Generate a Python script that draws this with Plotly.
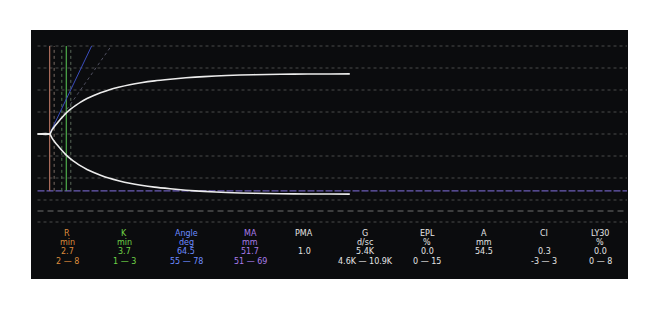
import math
import plotly.graph_objects as go

# ---------------- data ----------------
time_min = [0, 2.7, 3.2, 3.8, 4.5, 5.2, 6.0, 6.4, 7.5, 8.5, 9.5, 11, 12.5, 14, 16, 18,
            20.5, 23, 26, 29.5, 33, 37, 42, 48, 54, 60, 65, 69.4]
amplitude_mm = [0, 0, 3.5, 7.0, 10.5, 13.8, 17.5, 19.2, 23.0, 26.0, 28.8, 32.2, 35.0, 37.5,
                40.3, 42.5, 44.8, 46.6, 48.3, 49.8, 51.1, 52.2, 53.2, 53.9, 54.3, 54.5, 54.6, 54.7]

R_time = 2.7
K_time = 3.7
angle_deg = 64.5
angle_low_deg = 55
MA_mm = 51.7
ref_dash_mm = -35
marker_dotted_times = [3.7, 5.4, 7.4]
grid_mm = [40, 30, 20, 10, 0, -10, -20, -30, -40]
time_end = 131

params = ["R", "K", "Angle", "MA", "PMA", "G", "EPL", "A", "CI", "LY30"]
units = ["min", "min", "deg", "mm", "", "d/sc", "%", "mm", "", "%"]
values = ["2.7", "3.7", "64.5", "51.7", "1.0", "5.4K", "0.0", "54.5", "0.3", "0.0"]
ranges = ["2 — 8", "1 — 3", "55 — 78", "51 — 69", "", "4.6K — 10.9K", "0 — 15", "", "-3 — 3", "0 — 8"]

# ---------------- styling / layout constants ----------------
col_colors = ["#dc8b3c", "#6fd447", "#6b8bff", "#a97ce9", "#e4e4e4", "#e4e4e4",
              "#e4e4e4", "#e4e4e4", "#e4e4e4", "#e4e4e4"]
col_px = [67, 124, 186, 250, 304, 365, 427, 484, 544, 600]
row_px = [233, 242.5, 251.5, 261]
PX_PER_MIN = 4.5
PX_PER_MM = 2.2
OFF = 8  # page body margin
W, H = 660 - OFF, 311 - OFF
PL, PR, PT, PB = 31, 628, 30, 279  # plot area in page pixels
L, T = PL - OFF, PT - OFF
R_, B = 660 - PR, 311 - PB
pw, ph = PR - PL, PB - PT

x_lo = (PL - 37.5) / PX_PER_MIN
x_hi = x_lo + pw / PX_PER_MIN
y_hi = (134 - PT) / PX_PER_MM
y_lo = y_hi - ph / PX_PER_MM

fig = go.Figure()

shapes = []
for g in grid_mm:
    shapes.append(dict(type="line", xref="x", yref="y", x0=0, x1=time_end, y0=g, y1=g,
                       line=dict(color="#4a4a4a", width=1, dash="dot"), layer="below"))
shapes.append(dict(type="line", xref="x", yref="y", x0=0, x1=time_end, y0=-MA_mm / 2, y1=-MA_mm / 2,
                   line=dict(color="#6c5cb8", width=1.3, dash="7px,2px"), layer="below"))
shapes.append(dict(type="line", xref="x", yref="y", x0=0, x1=time_end, y0=ref_dash_mm, y1=ref_dash_mm,
                   line=dict(color="#6e6e6e", width=1, dash="6px,4px"), layer="below"))
top = grid_mm[0]
bot = -MA_mm / 2
dotted_colors = ["#7a6a62", "#4f7a4f", "#5a6a5a"]
for t, c in zip(marker_dotted_times, dotted_colors):
    shapes.append(dict(type="line", xref="x", yref="y", x0=t, x1=t, y0=bot, y1=top,
                       line=dict(color=c, width=1, dash="dot"), layer="below"))
shapes.append(dict(type="line", xref="x", yref="y", x0=R_time, x1=R_time, y0=bot, y1=top,
                   line=dict(color="#b0705f", width=1.2), layer="below"))
shapes.append(dict(type="line", xref="x", yref="y", x0=R_time + K_time, x1=R_time + K_time, y0=bot, y1=top,
                   line=dict(color="#4fae4c", width=1.2), layer="below"))


def angle_end(a):
    dt = top * PX_PER_MM / (math.tan(math.radians(a)) * PX_PER_MIN)
    return R_time + dt


shapes.append(dict(type="line", xref="x", yref="y", x0=R_time, x1=angle_end(angle_low_deg), y0=0, y1=top,
                   line=dict(color="#505060", width=1, dash="dot"), layer="below"))
shapes.append(dict(type="line", xref="x", yref="y", x0=R_time, x1=angle_end(angle_deg), y0=0, y1=top,
                   line=dict(color="#3a4cbc", width=1), layer="below"))

upper = [a / 2 for a in amplitude_mm]
lower = [-a / 2 for a in amplitude_mm]
for ys in (upper, lower):
    fig.add_trace(go.Scatter(x=time_min, y=ys, mode="lines",
                             line=dict(color="#ececec", width=1.6, shape="spline", smoothing=0.6),
                             hoverinfo="skip", showlegend=False))

ann = []
rows = [params, units, values, ranges]
for ri, row in enumerate(rows):
    yp = (PB - row_px[ri]) / ph
    for ci, txt in enumerate(row):
        if not txt:
            continue
        xp = (col_px[ci] - PL) / pw
        ann.append(dict(x=xp, y=yp, xref="paper", yref="paper", text=txt, showarrow=False,
                        xanchor="center", yanchor="middle", borderpad=0,
                        font=dict(family="DejaVu Sans", size=8, color=col_colors[ci])))

fig.update_layout(
    width=W, height=H,
    margin=dict(l=L, r=R_, t=T, b=B, pad=0),
    paper_bgcolor="white", plot_bgcolor="#0b0c0e",
    xaxis=dict(range=[x_lo, x_hi], visible=False, showgrid=False, zeroline=False, fixedrange=True),
    yaxis=dict(range=[y_lo, y_hi], visible=False, showgrid=False, zeroline=False, fixedrange=True),
    shapes=shapes, annotations=ann, showlegend=False,
)
fig.write_html("out.html")
